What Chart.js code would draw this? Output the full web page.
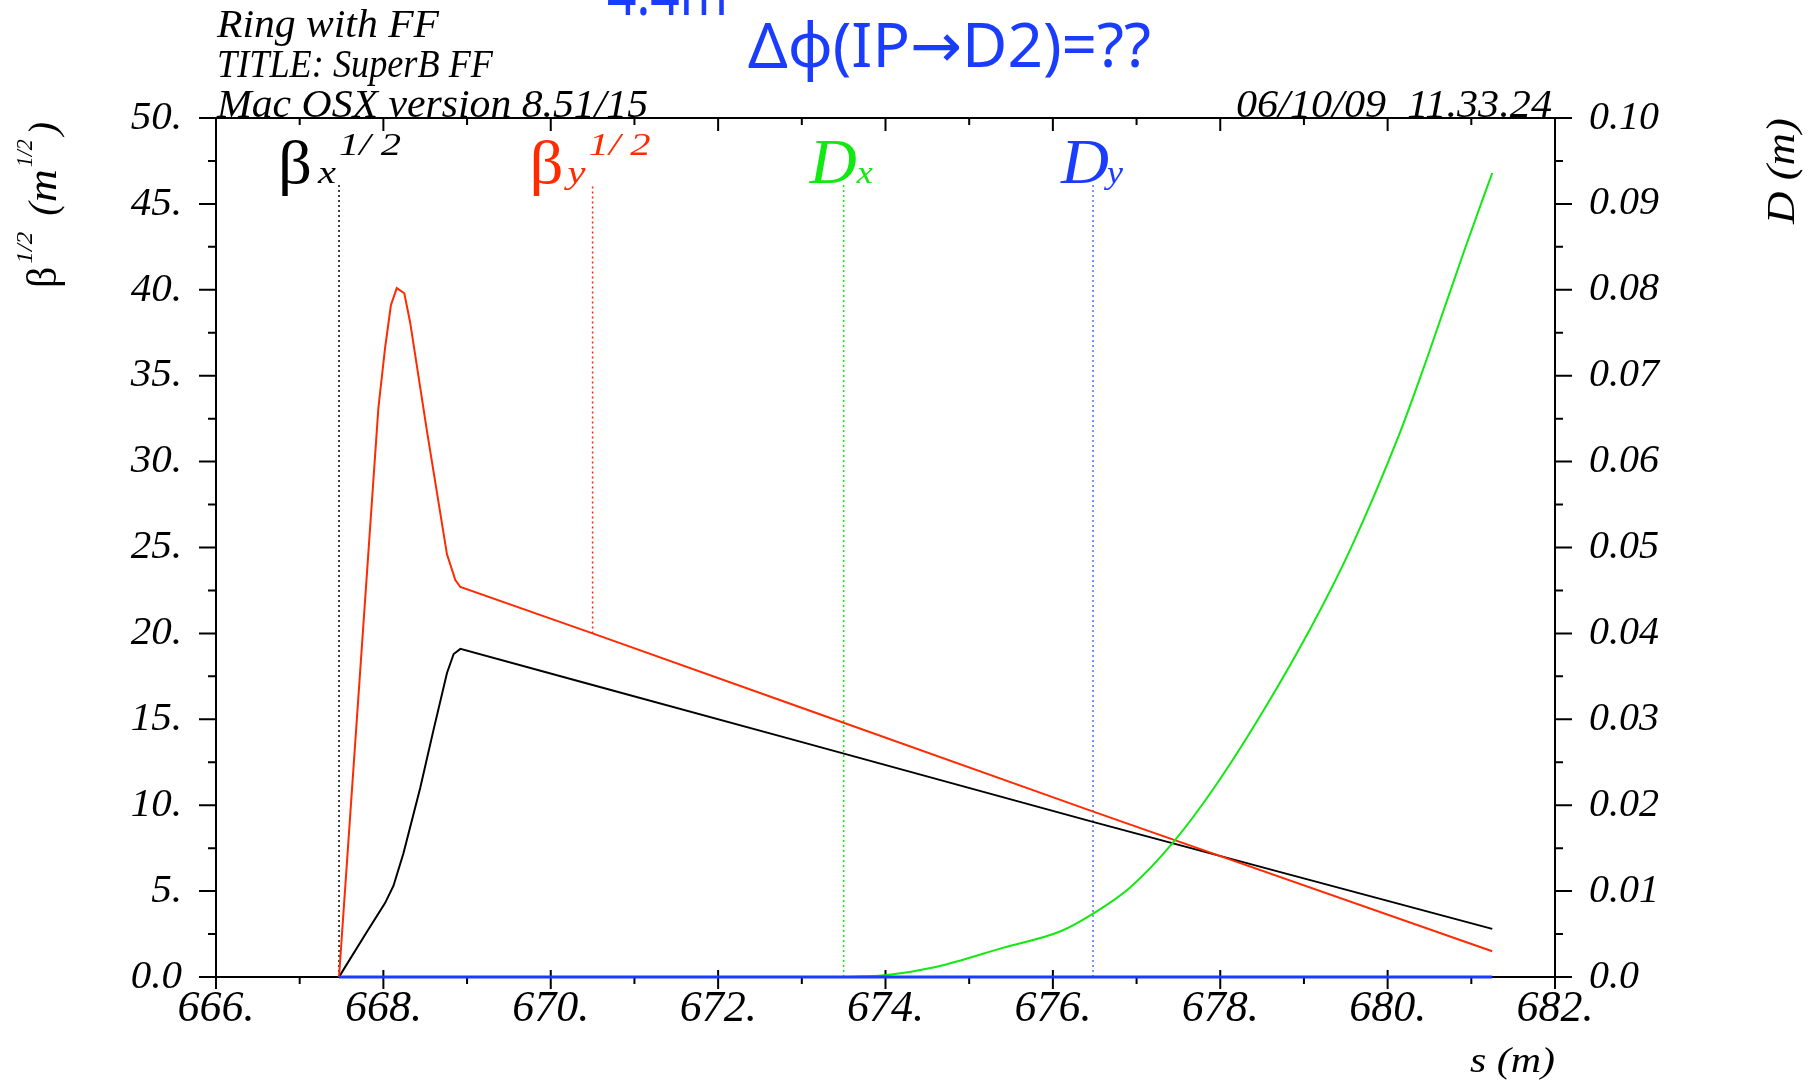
<!DOCTYPE html>
<html>
<head>
<meta charset="utf-8">
<title>SuperB FF optics</title>
<script src="https://cdn.jsdelivr.net/npm/chart.js@4.4.1/dist/chart.umd.min.js"></script>
<style>
  html, body { margin: 0; padding: 0; background: #fff; }
  #wrap { width: 1813px; height: 1080px; }
</style>
</head>
<body>
<div id="wrap"><canvas id="optics" width="1813" height="1080"></canvas></div>
<script>
// values, s in metres
const betaXS = [667.47, 667.52, 667.80, 668.02, 668.12, 668.24, 668.44, 668.60, 668.76, 668.84, 668.92, 670.50, 672.98, 676.50, 681.25];
const betaX  = [0, 0.4, 2.6, 4.3, 5.3, 7.2, 11.0, 14.4, 17.7, 18.8, 19.1, 17.0, 13.7, 9.0, 2.8];

const betaYS = [667.47, 667.94, 668.02, 668.09, 668.16, 668.25, 668.32, 668.52, 668.76, 668.86, 668.92, 670.50, 672.98, 676.50, 681.25];
const betaY  = [0, 33.1, 36.6, 39.1, 40.1, 39.8, 38.1, 31.8, 24.6, 23.1, 22.7, 20.0, 15.7, 9.6, 1.5];

const dxS = [673.50, 674.02, 674.60, 675.41, 676.10, 676.50, 676.92, 677.44, 677.96, 678.54, 679.09, 679.55, 680.14, 680.47, 680.91, 681.25];
const dx  = [0, 0.00024, 0.00116, 0.00342, 0.00536, 0.0075, 0.0104, 0.0157, 0.0225, 0.0314, 0.0408, 0.0497, 0.0632, 0.0720, 0.0844, 0.0936];

const dyS = [667.47, 681.25];
const dy  = [0, 0];

// curve name markers (dotted drop lines), left-axis units
const markerS   = [667.47, 670.50, 673.50, 676.48];
const markerEnd = [0, 20.0, 0, 0];
const markerTop = 46.1;

const xTicks  = [666, 682, 2];
const yTicks  = [0, 50, 5];
const y2Ticks = [0, 0.1, 0.01];

const BLACK = '#000000';
const RED = '#ff2a00';
const GREEN = '#12e812';
const BLUE = '#1a3cff';
const markerColors = [BLACK, RED, GREEN, '#5070ff'];

const serif = '"Liberation Serif", "Times New Roman", serif';
const toPts = (xs, ys) => xs.map((s, i) => ({ x: s, y: ys[i] }));

// draw text squeezed/stretched to a given width
function fitText(ctx, text, x, y, width, font, color, align) {
    ctx.save();
    ctx.font = font;
    ctx.fillStyle = color;
    ctx.textBaseline = 'alphabetic';
    const w = ctx.measureText(text).width;
    const k = width ? width / w : 1;
    ctx.translate(x, y);
    ctx.scale(k, 1);
    ctx.textAlign = align || 'left';
    ctx.fillText(text, 0, 0);
    ctx.restore();
}

// text made of pieces (sub/superscripts), drawn left to right; p.w stretches a piece
function drawPieces(ctx, x, y, pieces, color) {
    ctx.save();
    ctx.fillStyle = color;
    ctx.textBaseline = 'alphabetic';
    ctx.textAlign = 'left';
    let cx = x;
    pieces.forEach(p => {
        ctx.font = p.font;
        cx += p.gap || 0;
        const w = ctx.measureText(p.t).width;
        const k = p.w ? p.w / w : 1;
        ctx.save();
        ctx.translate(cx, y + (p.dy || 0));
        ctx.scale(k, 1);
        ctx.fillText(p.t, 0, 0);
        ctx.restore();
        cx += w * k;
    });
    ctx.restore();
}

const framePlugin = {
    id: 'frame',
    beforeDatasetsDraw(chart) {
        const { ctx, chartArea: a, scales } = chart;
        const { x, y, y2 } = scales;
        ctx.save();
        ctx.strokeStyle = BLACK;
        ctx.lineWidth = 2;
        ctx.beginPath();
        ctx.moveTo(a.left - 17, a.top); ctx.lineTo(a.right + 17, a.top);
        ctx.moveTo(a.left - 17, a.bottom); ctx.lineTo(a.right + 17, a.bottom);
        ctx.moveTo(a.left, a.top); ctx.lineTo(a.left, a.bottom);
        ctx.moveTo(a.right, a.top); ctx.lineTo(a.right, a.bottom);
        for (let v = 0; v <= 50.001; v += 2.5) {
            const py = y.getPixelForValue(v);
            const len = Math.abs(v % 5) < 0.01 ? 17 : 8;
            ctx.moveTo(a.left - len, py); ctx.lineTo(a.left, py);
        }
        for (let v = 0; v <= 0.10001; v += 0.005) {
            const py = y2.getPixelForValue(v);
            const len = Math.round(v * 1000) % 10 === 0 ? 17 : 8;
            ctx.moveTo(a.right, py); ctx.lineTo(a.right + len, py);
        }
        for (let s = 666; s <= 682; s++) {
            const px = x.getPixelForValue(s);
            const major = s % 2 === 0;
            ctx.moveTo(px, a.top); ctx.lineTo(px, a.top + (major ? 13 : 7));
            if (major) { ctx.moveTo(px, a.bottom - 7); ctx.lineTo(px, a.bottom + 12); }
            else { ctx.moveTo(px, a.bottom); ctx.lineTo(px, a.bottom + 7); }
        }
        ctx.stroke();
        ctx.restore();
    },
    afterDraw(chart) {
        const { ctx, chartArea: a, scales } = chart;
        const { x, y } = scales;

        // run header
        const hFont = 'italic 40px ' + serif;
        fitText(ctx, 'Ring with FF', a.left + 1, 37, 222, hFont, BLACK);
        fitText(ctx, 'TITLE: SuperB FF', a.left + 1, 77, 276, hFont, BLACK);
        fitText(ctx, 'Mac OSX version 8.51/15', a.left + 1, 117, 431, hFont, BLACK);
        fitText(ctx, '06/10/09  11.33.24', a.right - 3, 117, 316, hFont, BLACK, 'right');

        // blue annotation on top
        const sans = '62px "Noto Sans", "DejaVu Sans", sans-serif';
        fitText(ctx, '4.4m', 607, 15, 121, sans, BLUE);
        fitText(ctx, 'Δϕ(IP→D2)=??', 748, 67, 403, sans, BLUE);

        // curve names above the drop lines
        const base = y.getPixelForValue(markerTop) - 2;
        const m = markerS.map(s => x.getPixelForValue(s));
        const sub = 'italic 31px ' + serif;
        const sup = 'italic 32px ' + serif;
        drawPieces(ctx, m[0] - 61, base, [
            { t: 'β', font: '62px ' + serif, w: 34 },
            { t: 'x', font: sub, gap: 6, w: 18 },
            { t: '1/ 2', font: sup, dy: -28, gap: 3, w: 62 }
        ], BLACK);
        drawPieces(ctx, m[1] - 63, base, [
            { t: 'β', font: '62px ' + serif, w: 34 },
            { t: 'y', font: sub, gap: 4, w: 18 },
            { t: '1/ 2', font: sup, dy: -28, gap: 3, w: 62 }
        ], RED);
        drawPieces(ctx, m[2] - 34, base, [
            { t: 'D', font: 'italic 64px ' + serif, w: 47 },
            { t: 'x', font: sub, gap: 0, w: 16 }
        ], GREEN);
        drawPieces(ctx, m[3] - 32, base, [
            { t: 'D', font: 'italic 64px ' + serif, w: 48 },
            { t: 'y', font: sub, gap: -2, w: 16 }
        ], BLUE);

        // axis titles
        ctx.save();
        ctx.translate(56, 288);
        ctx.rotate(-Math.PI / 2);
        drawPieces(ctx, 0, 0, [
            { t: 'β', font: '42px ' + serif },
            { t: '1/2', font: 'italic 24px ' + serif, dy: -24, gap: 3, w: 32 },
            { t: ' (', font: 'italic 40px ' + serif, gap: 6 },
            { t: 'm', font: 'italic 40px ' + serif, gap: 0, w: 33 },
            { t: '1/2', font: 'italic 24px ' + serif, dy: -24, gap: 2, w: 28 },
            { t: ')', font: 'italic 40px ' + serif, gap: 4 }
        ], BLACK);
        ctx.restore();

        ctx.save();
        ctx.translate(1794, 224);
        ctx.rotate(-Math.PI / 2);
        fitText(ctx, 'D (m)', 0, 0, 106, 'italic 40px ' + serif, BLACK);
        ctx.restore();

        fitText(ctx, 's (m)', a.right, 1072, 85, 'italic 36px ' + serif, BLACK, 'right');
    }
};

const markerSets = markerS.map((s, i) => ({
    label: 'marker' + i,
    data: [{ x: s, y: markerEnd[i] }, { x: s, y: markerTop }],
    borderColor: markerColors[i],
    borderWidth: 1.5,
    borderDash: [2, 3],
    yAxisID: 'y'
}));

const tickFont = size => ({ family: serif, style: 'italic', size: size });

new Chart(document.getElementById('optics'), {
    type: 'line',
    data: {
        datasets: [
            { label: 'Dy', data: toPts(dyS, dy), borderColor: BLUE, borderWidth: 3, yAxisID: 'y2' },
            { label: 'Dx', data: toPts(dxS, dx), borderColor: GREEN, borderWidth: 2,
              cubicInterpolationMode: 'monotone', yAxisID: 'y2' },
            { label: 'βy^1/2', data: toPts(betaYS, betaY), borderColor: RED, borderWidth: 2, yAxisID: 'y' },
            { label: 'βx^1/2', data: toPts(betaXS, betaX), borderColor: BLACK, borderWidth: 2, yAxisID: 'y' },
            ...markerSets
        ]
    },
    options: {
        responsive: false,
        animation: false,
        clip: false,
        layout: { padding: { top: 118, left: 0, right: 0, bottom: 0 } },
        elements: { point: { radius: 0 }, line: { tension: 0, fill: false } },
        plugins: { legend: { display: false }, tooltip: { enabled: false } },
        scales: {
            x: {
                type: 'linear', position: 'bottom', min: xTicks[0], max: xTicks[1],
                grid: { display: false, drawTicks: false }, border: { display: false },
                ticks: { stepSize: xTicks[2], autoSkip: false, maxRotation: 0, padding: 6,
                    color: BLACK, font: tickFont(44), callback: v => v + '.' },
                afterFit: s => { s.height = 103; }
            },
            y: {
                position: 'left', min: yTicks[0], max: yTicks[1],
                grid: { display: false, drawTicks: false }, border: { display: false },
                ticks: { stepSize: yTicks[2], autoSkip: false, padding: 34,
                    color: BLACK, font: tickFont(41), callback: v => v === 0 ? '0.0' : v + '.' },
                afterFit: s => { s.width = 216; }
            },
            y2: {
                position: 'right', min: y2Ticks[0], max: y2Ticks[1],
                grid: { display: false, drawTicks: false }, border: { display: false },
                ticks: { stepSize: y2Ticks[2], autoSkip: false, padding: 34,
                    color: BLACK, font: tickFont(40), callback: v => v === 0 ? '0.0' : v.toFixed(2) },
                afterFit: s => { s.width = 258; }
            }
        }
    },
    plugins: [framePlugin]
});
</script>
</body>
</html>
